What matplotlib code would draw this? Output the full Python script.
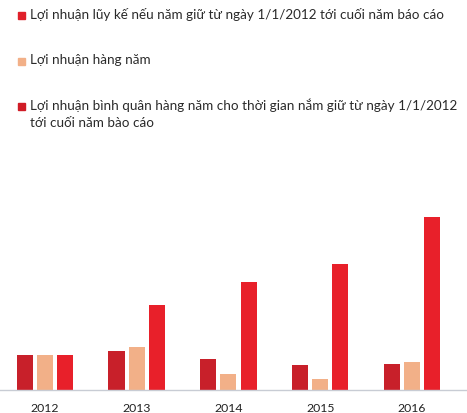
import numpy as np
import matplotlib.pyplot as plt

years = ["2012", "2013", "2014", "2015", "2016"]
# (pixel-height units)
cumulative = [35, 39, 31, 25, 26]
annual = [35, 43, 16, 11, 28]
avg_annual = [35, 85, 108, 126, 173]

legend_labels = [
    "Lợi nhuận lũy kế nếu năm giữ từ ngày 1/1/2012 tới cuối năm báo cáo",
    "Lợi nhuận hàng năm",
    "Lợi nhuận bình quân hàng năm cho thời gian nắm giữ từ ngày 1/1/2012\ntới cuối năm bào cáo",
]
legend_colors = ["#e0202a", "#f2b088", "#d01c26"]
bar_colors = ["#c8202a", "#f2b088", "#e8202a"]

W, H = 467, 414
fig = plt.figure(figsize=(W / 100, H / 100), dpi=100)
plt.rcParams["font.family"] = ["Lato", "Noto Sans", "DejaVu Sans"]

# axes area in pixels
ax_bottom = H - 390.7
ax_top = H - 205
ax = fig.add_axes([0, ax_bottom / H, 1, (ax_top - ax_bottom) / H])

x = np.arange(len(years))
w = 0.175
step = 0.22
for i, (vals, c) in enumerate(zip([cumulative, annual, avg_annual], bar_colors)):
    ax.bar(x + (i - 1) * step, vals, width=w, color=c, zorder=2)

ax.set_xlim(-0.49, 4.6)
ax.set_ylim(0, ax_top - ax_bottom)
for s in ["top", "left", "right"]:
    ax.spines[s].set_visible(False)
ax.spines["bottom"].set_color("#c8ccd4")
ax.spines["bottom"].set_linewidth(1)
ax.set_yticks([])
ax.set_xticks(x)
ax.set_xticklabels(years, fontsize=8.8, color="#222222")
ax.tick_params(axis="x", length=0, pad=9)

# legend drawn as stacked rows
rows_y = [16, 62, 107]
for lab, c, yy in zip(legend_labels, legend_colors, rows_y):
    fig.patches.append(plt.Rectangle((18 / W, 1 - (yy + 3.5) / H), 6.5 / W, 7 / H,
                                     transform=fig.transFigure, color=c))
    fig.text(30 / W, 1 - (yy - 8.2) / H, lab, fontsize=9.7, color="#2a2a2a",
             va="top", ha="left", linespacing=1.5)

fig.savefig("out.png", dpi=100)
